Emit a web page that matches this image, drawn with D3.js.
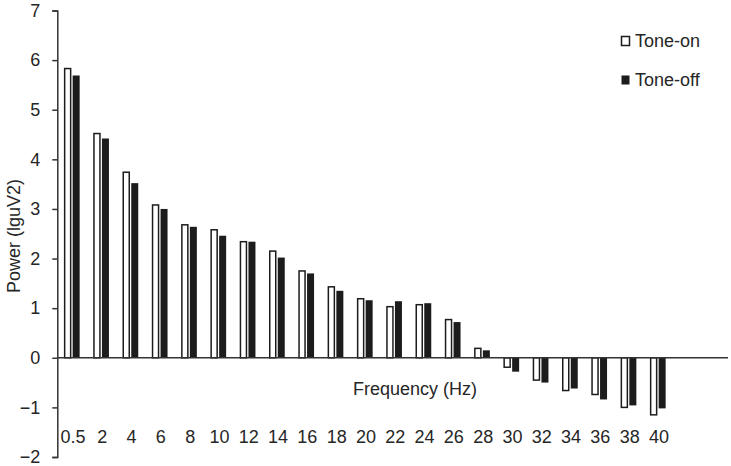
<!DOCTYPE html>
<html><head><meta charset="utf-8">
<script src="https://cdn.jsdelivr.net/npm/d3@7"></script>
<style>
body{margin:0;background:#fff;}
text{font-family:"Liberation Sans",Arial,sans-serif;fill:#262626;}
</style></head>
<body><svg id="c" width="731" height="466"></svg>
<script>
const categories = ["0.5","2","4","6","8","10","12","14","16","18","20","22","24","26","28","30","32","34","36","38","40"];
const toneOn  = [5.83,4.52,3.74,3.08,2.68,2.58,2.34,2.15,1.75,1.43,1.19,1.03,1.07,0.77,0.19,-0.19,-0.45,-0.66,-0.74,-1.00,-1.15];
const toneOff = [5.69,4.42,3.52,3.00,2.64,2.46,2.34,2.02,1.70,1.35,1.16,1.14,1.10,0.72,0.15,-0.28,-0.50,-0.62,-0.84,-0.96,-1.02];
const seriesNames = ["Tone-on","Tone-off"];
const yTicks = [-2,-1,0,1,2,3,4,5,6,7];

const svg = d3.select("#c");
const x0 = 57.3, bandW = 29.3;
const x = d3.scaleBand().domain(categories).range([x0, x0 + bandW*categories.length]).padding(0);
const y = d3.scaleLinear().domain([-2,7]).range([457,10.5]);

const data = categories.map((c,i)=>({c, vals:[{s:"Tone-on",v:toneOn[i]},{s:"Tone-off",v:toneOff[i]}]}));

// bars
const inner = 7; // bar width
const g = svg.append("g");
const grp = g.selectAll("g.grp").data(data).enter().append("g")
  .attr("transform", d=>`translate(${x(d.c)+x.bandwidth()/2},0)`);
grp.selectAll("rect").data(d=>d.vals).enter().append("rect")
  .attr("x", d=> d.s==="Tone-on" ? -inner-0.3 : 0.7)
  .attr("width", d=> d.s==="Tone-on" ? inner-1 : inner)
  .attr("y", d=> Math.min(y(d.v), y(0)))
  .attr("height", d=> Math.abs(y(d.v)-y(0)))
  .attr("fill", d=> d.s==="Tone-on" ? "#fff" : "#1c1c1c")
  .attr("stroke", d=> d.s==="Tone-on" ? "#1c1c1c" : "none")
  .attr("stroke-width", 1.5);

// zero line
svg.append("line").attr("x1", x0).attr("x2", 728).attr("y1", y(0)).attr("y2", y(0))
  .attr("stroke","#333").attr("stroke-width",1.5);

// y axis
const yAxis = d3.axisLeft(y).tickValues(yTicks).tickSizeInner(5).tickSizeOuter(5).tickPadding(12).tickFormat(d3.format("d"));
const ya = svg.append("g").attr("transform",`translate(${x0},0)`).call(yAxis);
ya.selectAll("path,line").attr("stroke","#333").attr("stroke-width",1.5);
ya.selectAll("text").style("font-size","18px").attr("fill","#262626").style("font-family","Liberation Sans, Arial, sans-serif");

// category labels
svg.append("g").selectAll("text").data(categories).enter().append("text")
  .attr("x", d=> x(d)+x.bandwidth()/2 + 1)
  .attr("y", 437).attr("dy","0.35em").attr("text-anchor","middle")
  .style("font-size","18px").text(d=>d);

// axis titles
svg.append("text").attr("x",415).attr("y",389).attr("dy","0.35em").attr("text-anchor","middle")
  .style("font-size","18px").text("Frequency (Hz)");
svg.append("text").attr("transform","translate(14,236) rotate(-90)").attr("dy","0.35em").attr("text-anchor","middle")
  .style("font-size","18px").text("Power (lguV2)");

// legend
const leg = svg.append("g");
seriesNames.forEach((s,i)=>{
  const ly = [41,80][i];
  leg.append("rect").attr("x",621.5).attr("y",ly-4.5).attr("width", 8).attr("height", 9)
    .attr("fill", i===0 ? "#fff" : "#1c1c1c").attr("stroke", "#1c1c1c").attr("stroke-width", i===0?1.5:0);
  leg.append("text").attr("x",635).attr("y",ly).attr("dy","0.35em").style("font-size","18px").text(s);
});
</script></body></html>
